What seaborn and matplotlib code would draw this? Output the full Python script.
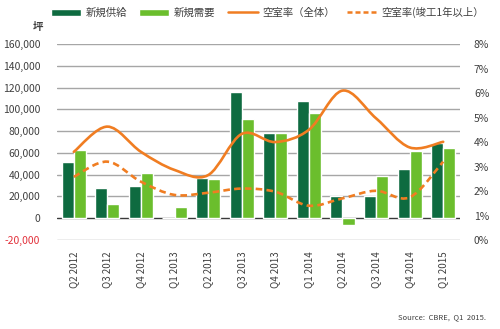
import matplotlib
matplotlib.use("Agg")
import matplotlib.pyplot as plt
import seaborn as sns
import pandas as pd
import numpy as np
from matplotlib.path import Path
from matplotlib.patches import PathPatch, Patch
from matplotlib.lines import Line2D

quarters = ["Q2 2012", "Q3 2012", "Q4 2012", "Q1 2013", "Q2 2013", "Q3 2013",
            "Q4 2013", "Q1 2014", "Q2 2014", "Q3 2014", "Q4 2014", "Q1 2015"]
supply = [52000, 28000, 30000, 0, 36700, 115600, 78600, 108000, 20000, 20000, 45600, 69400]
demand = [62400, 13500, 41600, 10400, 36400, 91000, 78600, 96300, -6000, 38800, 61800, 64500]
vacancy_all = [3.60, 4.63, 3.60, 2.86, 2.65, 4.33, 4.00, 4.50, 6.10, 4.97, 3.78, 4.01]
vacancy_old = [2.58, 3.20, 2.38, 1.84, 1.93, 2.10, 1.97, 1.40, 1.70, 2.01, 1.74, 3.20]
left_ticks = [-20000, 0, 20000, 40000, 60000, 80000, 100000, 120000, 140000, 160000]
right_ticks = [0, 1, 2, 3, 4, 5, 6, 7, 8]
series_names = ["新規供給", "新規需要", "空室率（全体）", "空室率(竣工1年以上）"]

DARK = "#0E6B40"
LIGHT = "#6BBE2D"
ORANGE = "#F07D22"
TXT = "#404040"

sns.set_theme(style="white")
plt.rcParams['font.family'] = ['Noto Sans CJK JP', 'DejaVu Sans']

df = pd.DataFrame({
    "quarter": quarters * 2,
    "value": supply + demand,
    "series": [series_names[0]] * len(quarters) + [series_names[1]] * len(quarters),
})

fig = plt.figure(figsize=(5.0, 3.29), dpi=100)
ax = fig.add_axes([0.114, 0.2705, 0.806, 0.5955])

for t in left_ticks:
    ax.axhline(t, color="#3a3a3a" if t == 0 else "#A6A6A6", lw=1.0, zorder=0)

sns.barplot(data=df, x="quarter", y="value", hue="series", order=quarters,
            palette=[DARK, LIGHT], width=0.72, saturation=1, ax=ax, zorder=2,
            legend=False)
ax.set_xlim(-0.5, 11.5)
ax.set_ylim(-20000, 160000)
ax.set_yticks(left_ticks)
ax.set_yticklabels([f"{v:,}" for v in left_ticks], fontsize=7.5, color=TXT)
ax.get_yticklabels()[0].set_color("#E2313B")
ax.set_xlabel("")
ax.set_ylabel("")
ax.tick_params(axis="x", length=0, pad=8, labelsize=7, labelcolor=TXT)
ax.tick_params(axis="y", length=0, pad=12)
for lab in ax.get_xticklabels():
    lab.set_rotation(90)
for s in ax.spines.values():
    s.set_visible(False)

ax2 = ax.twinx()
ax2.set_ylim(0, 8)
ax2.set_yticks(right_ticks)
ax2.set_yticklabels([f"{v}%" for v in right_ticks], fontsize=7.5, color=TXT)
ax2.tick_params(axis="y", length=0, pad=10)
for s in ax2.spines.values():
    s.set_visible(False)


def smooth_path(xs, ys):
    pts = np.column_stack([xs, ys]).astype(float)
    n = len(pts)
    verts = [pts[0]]
    codes = [Path.MOVETO]
    for i in range(n - 1):
        p0 = pts[i - 1] if i > 0 else pts[i]
        p1 = pts[i]
        p2 = pts[i + 1]
        p3 = pts[i + 2] if i + 2 < n else pts[i + 1]
        c1 = p1 + (p2 - p0) / 6.0
        c2 = p2 - (p3 - p1) / 6.0
        verts += [c1, c2, p2]
        codes += [Path.CURVE4] * 3
    return Path(verts, codes)


xs = np.arange(len(quarters))
ax2.add_patch(PathPatch(smooth_path(xs, vacancy_all), fill=False, edgecolor=ORANGE,
                        lw=1.9, zorder=3, capstyle="round"))
ax2.add_patch(PathPatch(smooth_path(xs, vacancy_old), fill=False, edgecolor=ORANGE,
                        lw=1.9, ls=(0, (2.5, 1.6)), zorder=3))
ax2.set_xlim(-0.5, 11.5)

handles = [Patch(facecolor=DARK), Patch(facecolor=LIGHT),
           Line2D([], [], color=ORANGE, lw=1.8),
           Line2D([], [], color=ORANGE, lw=1.8, ls=(0, (2.0, 1.2)))]
fig.legend(handles, series_names, loc="center", bbox_to_anchor=(0.535, 0.962), ncol=4,
           frameon=False, fontsize=7.5, handlelength=2.9, handleheight=0.7,
           columnspacing=1.2, handletextpad=0.4, labelcolor=TXT)

fig.text(0.076, 0.918, "坪", fontsize=7.5, color=TXT, ha="center", va="center",
         fontweight="bold")
fig.text(0.972, 0.035, "Source:  CBRE,  Q1  2015.", fontsize=5.5, color=TXT,
         ha="right", va="center")

fig.savefig("out.png", dpi=100)
